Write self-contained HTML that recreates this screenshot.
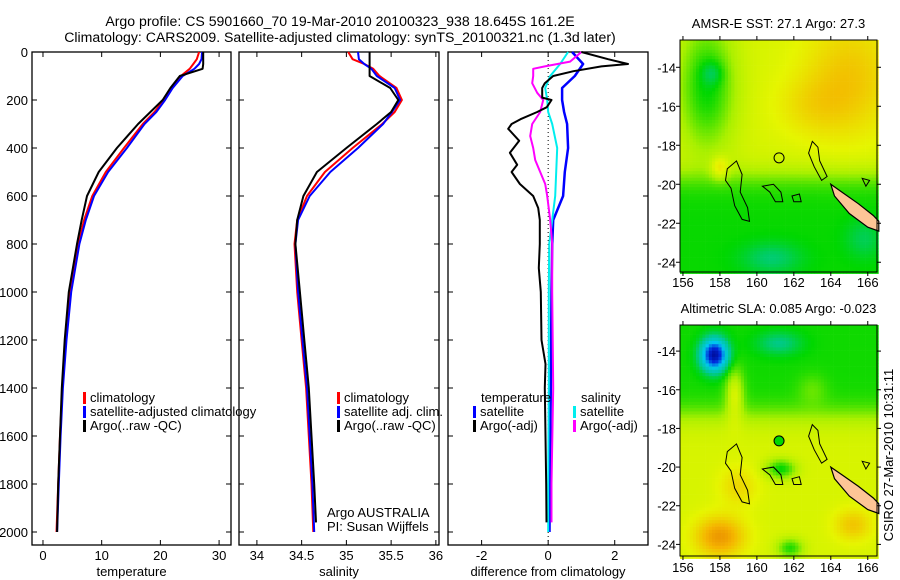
<!DOCTYPE html>
<html><head><meta charset="utf-8"><style>
body{margin:0;background:#fff}
svg{display:block;font-family:"Liberation Sans","DejaVu Sans",sans-serif}
text{fill:#000}
</style></head><body>
<svg id="fig" width="900" height="580" viewBox="0 0 900 580">
<text x="340" y="26" font-size="14.1" text-anchor="middle">Argo profile: CS 5901660_70 19-Mar-2010 20100323_938 18.645S 161.2E</text>
<text x="340" y="42" font-size="14.1" text-anchor="middle">Climatology: CARS2009. Satellite-adjusted climatology: synTS_20100321.nc (1.3d later)</text>
<g id="panels"></g>
<g id="maps"></g>
<text transform="translate(893,455) rotate(-90)" font-size="13" text-anchor="middle">CSIRO 27-Mar-2010 10:31:11</text>
</svg>
<script>
// ---- profile data ----
const depth = [0,30,50,70,100,150,200,250,300,400,500,600,700,800,1000,1200,1400,1600,1800,2000];
const tClim = [26.6,26.2,25.6,25.0,23.5,22.0,20.6,19.0,17.0,13.8,10.7,8.4,7.0,6.0,4.6,3.9,3.3,2.9,2.6,2.3];
const tSat  = [27.1,27.0,26.6,25.8,23.8,22.1,20.8,19.3,17.3,14.3,11.1,8.7,7.3,6.2,4.8,4.0,3.4,3.0,2.7,2.4];
const tArgo = [27.3,27.3,27.3,27.2,23.3,21.7,20.4,18.3,16.2,12.6,9.5,7.5,6.6,5.8,4.4,3.7,3.2,2.9,2.6,2.4];
const sClim = [35.02,35.07,35.2,35.3,35.37,35.56,35.62,35.54,35.40,35.07,34.76,34.56,34.45,34.42,34.45,34.5,34.55,34.58,34.61,34.63];
const sSat  = [35.13,35.14,35.2,35.28,35.34,35.54,35.60,35.51,35.41,35.13,34.82,34.59,34.46,34.43,34.46,34.51,34.56,34.59,34.62,34.64];
const sArgo = [35.26,35.26,35.26,35.26,35.26,35.49,35.58,35.50,35.34,35.0,34.67,34.52,34.45,34.43,34.48,34.53,34.58,34.61,34.64,34.66];
const dTArgoDepth = [0,30,50,60,80,100,130,150,190,200,230,250,280,300,320,370,420,470,500,550,600,650,700,800,900,1000,1200,1300,1400,1600,1800,1960];
const dTArgo = [1.0,1.8,2.4,1.6,0.76,0.15,-0.1,-0.18,-0.18,0.1,-0.04,-0.33,-0.83,-1.1,-1.2,-0.87,-1.15,-0.93,-1.1,-0.85,-0.45,-0.3,-0.25,-0.25,-0.28,-0.22,-0.2,-0.08,-0.1,-0.08,-0.06,-0.05];
const dSatDepth = [0,50,100,150,200,250,300,400,500,600,700,800,1000,1400,1800,2000];
const dTSat = [0.72,1.05,0.8,0.42,0.42,0.48,0.57,0.6,0.5,0.45,0.15,0.12,0.1,0.08,0.05,0.04];
const dSSat = [0.6,0.36,0.06,-0.09,-0.03,0,0.12,0.27,0.24,0.21,0.12,0.03,0.02,0.02,0.0,0.0];
const dSArgoDepth = [0,40,60,70,100,130,170,200,250,300,350,400,450,500,550,600,700,800,1000,1400,1800,1960];
const dSArgo = [1.0,0.66,-0.1,-0.45,-0.45,-0.48,-0.33,-0.15,-0.24,-0.48,-0.54,-0.45,-0.39,-0.24,-0.09,-0.03,0.06,0.12,0.12,0.15,0.1,0.1];
const yTicks = [0,200,400,600,800,1000,1200,1400,1600,1800,2000];

const NS='http://www.w3.org/2000/svg';
function mk(tag,attrs,parent){const e=document.createElementNS(NS,tag);for(const k in attrs)e.setAttribute(k,attrs[k]);parent.appendChild(e);return e;}
const P=document.getElementById('panels');
const yOf=d=>52+d*0.24;
const FS=13;

function panel(x0,x1,vmin,vmax,xticks,xlabel,name,showY){
  const g=mk('g',{},P);
  
  
  const xf=v=>x0+(v-vmin)/(vmax-vmin)*(x1-x0);
  const r=mk('rect',{x:x0,y:52,width:x1-x0,height:493,fill:'none',stroke:'#000','stroke-width':1.3},g);
  
  
  yTicks.forEach(d=>{
    const y=yOf(d);
    mk('line',{x1:x0,x2:x0+5,y1:y,y2:y,stroke:'#000'},g);
    mk('line',{x1:x1-5,x2:x1,y1:y,y2:y,stroke:'#000'},g);
    if(showY){const t=mk('text',{x:x0-4,y:y+5,'font-size':FS,'text-anchor':'end'},g);t.textContent=d;
      
      }
  });
  xticks.forEach(v=>{
    const x=xf(v);
    mk('line',{x1:x,x2:x,y1:52,y2:57,stroke:'#000'},g);
    mk('line',{x1:x,x2:x,y1:540,y2:545,stroke:'#000'},g);
    const t=mk('text',{x:x,y:560,'font-size':FS,'text-anchor':'middle'},g);t.textContent=v;
    
    
  });
  const lt=mk('text',{x:(x0+x1)/2,y:576,'font-size':FS,'text-anchor':'middle'},g);lt.textContent=xlabel;
  
  
  return {g,xf};
}
function series(p,vals,deps,color,w,name){
  const pts=vals.map((v,i)=>p.xf(v).toFixed(1)+','+yOf(deps[i]).toFixed(1)).join(' ');
  const l=mk('polyline',{points:pts,fill:'none',stroke:color,'stroke-width':w,'stroke-linejoin':'round'},p.g);
  
  
}
function legend(g,x,y,color,label,name){
  mk('rect',{x:x,y:y-10,width:3,height:12,fill:color},g);
  const t=mk('text',{x:x+7,y:y,'font-size':FS},g);t.textContent=label;
  
  
}
// panel 1
const p1=panel(32,231,-1.87,32.03,[0,10,20,30],'temperature','temperature-panel',true);
series(p1,tClim,depth,'#f00',2,'temp-climatology-line');
series(p1,tSat,depth,'#00f',2,'temp-satellite-line');
series(p1,tArgo,depth,'#000',2,'temp-argo-line');
legend(p1.g,83,402,'#f00','climatology','legend-climatology');
legend(p1.g,83,416,'#00f','satellite-adjusted climatology','legend-satellite');
legend(p1.g,83,430,'#000','Argo(..raw -QC)','legend-argo');
// panel 2
const p2=panel(239,439,33.8,36.035,[34,34.5,35,35.5,36],'salinity','salinity-panel',false);
series(p2,sClim,depth,'#f00',2,'sal-climatology-line');
series(p2,sSat,depth,'#00f',2,'sal-satellite-line');
series(p2,sArgo.slice(0,19).concat([34.66]),depth.slice(0,19).concat([1960]),'#000',2,'sal-argo-line');
legend(p2.g,337,402,'#f00','climatology','legend-sal-climatology');
legend(p2.g,337,416,'#00f','satellite adj. clim.','legend-sal-satellite');
legend(p2.g,337,430,'#000','Argo(..raw -QC)','legend-sal-argo');
const a1=mk('text',{x:327,y:517,'font-size':FS},p2.g);a1.textContent='Argo AUSTRALIA';


const a2=mk('text',{x:327,y:531,'font-size':FS},p2.g);a2.textContent='PI: Susan Wijffels';


// panel 3
const p3=panel(448,648,-3.01,3.0,[-2,0,2],'difference from climatology','difference-panel',false);
mk('line',{x1:p3.xf(0),x2:p3.xf(0),y1:52,y2:545,stroke:'#000','stroke-dasharray':'1,3'},p3.g);
series(p3,dTSat,dSatDepth,'#00f',2.5,'diff-temp-satellite-line');
series(p3,dSSat,dSatDepth,'#0ee',2,'diff-sal-satellite-line');
series(p3,dSArgo,dSArgoDepth,'#f0f',2,'diff-sal-argo-line');
series(p3,dTArgo,dTArgoDepth,'#000',2,'diff-temp-argo-line');
const ht=mk('text',{x:481,y:402,'font-size':FS},p3.g);ht.textContent='temperature';


const hs=mk('text',{x:581,y:402,'font-size':FS},p3.g);hs.textContent='salinity';


legend(p3.g,473,416,'#00f','satellite','legend-diff-temp-satellite');
legend(p3.g,473,430,'#000','Argo(-adj)','legend-diff-temp-argo');
legend(p3.g,573,416,'#0ee','satellite','legend-diff-sal-satellite');
legend(p3.g,573,430,'#f0f','Argo(-adj)','legend-diff-sal-argo');

// ---- maps ----
const M=document.getElementById('maps');
const stops=[[0,[0,0,120]],[0.15,[0,40,220]],[0.3,[0,200,240]],[0.45,[0,200,150]],[0.55,[0,215,0]],[0.66,[170,240,0]],[0.74,[230,245,0]],[0.85,[245,180,0]],[1,[220,100,0]]];
function cmap(v){v=Math.max(0,Math.min(1,v));for(let i=1;i<stops.length;i++){if(v<=stops[i][0]){const a=stops[i-1],b=stops[i],t=(v-a[0])/(b[0]-a[0]);return 'rgb('+a[1].map((c,k)=>Math.round(c+(b[1][k]-c)*t)).join(',')+')';}}return 'rgb(220,100,0)';}
function sq(a){return a*a;}
const G=(lon,lat,cx,cy,sx,sy)=>Math.exp(-sq((lon-cx)/sx)-sq((lat-cy)/sy));
function sst(lon,lat){
  let v=0.72;
  const south=1/(1+Math.exp((lat+19.6)*2.5));
  v+=(0.555-0.72)*south;
  v-=0.17*G(lon,lat,157.3,-15,1.5,3.2)*(1-south);
  v-=0.07*G(lon,lat,157.6,-14.3,0.6,0.6);
  v+=0.1*G(lon,lat,165,-14.5,2.5,3);
  v+=0.05*G(lon,lat,163,-16,2,1.5);
  v-=0.08*G(lon,lat,160.8,-23.8,1.6,0.8);
  v-=0.06*G(lon,lat,165.8,-22.8,1,1);
  v+=0.1*G(lon,lat,158,-19.2,0.5,0.6);
  return v;
}
function sla(lon,lat){
  let v=0.72;
  const north=1/(1+Math.exp(-(lat+17.3)*2.5));
  v+=(0.56-0.72)*north;
  v-=0.5*G(lon,lat,157.7,-14.2,0.7,0.8);
  v-=0.1*G(lon,lat,161.2,-13.6,1.2,0.6);
  v+=0.15*G(lon,lat,158.8,-16.2,0.5,1.3);
  v+=0.18*G(lon,lat,158,-23.6,1.3,1);
  v+=0.1*G(lon,lat,165.2,-23,1,0.8);
  v+=0.07*G(lon,lat,159,-21,1,1);
  v-=0.17*G(lon,lat,161.3,-20.1,0.8,0.5);
  v-=0.15*G(lon,lat,161.8,-24.2,0.7,0.5);
  v+=0.05*G(lon,lat,163,-16,0.8,0.8);
  return v;
}
const coasts=[
 [[158.4,-19.2],[158.9,-18.8],[159.2,-19.5],[159.1,-20.4],[159.5,-21.2],[159.6,-21.9],[159.2,-21.8],[158.8,-21.1],[158.6,-20.2],[158.3,-19.8]],
 [[160.3,-20.1],[160.9,-20.0],[161.3,-20.4],[161.4,-20.9],[161.0,-20.9],[160.7,-20.4]],
 [[161.9,-20.6],[162.3,-20.5],[162.4,-20.9],[162.0,-20.9]],
 [[163.0,-17.8],[163.3,-18.1],[163.4,-18.8],[163.8,-19.6],[163.5,-19.8],[163.1,-19.1],[162.8,-18.4]],
 [[165.7,-19.7],[166.1,-19.8],[165.9,-20.1]]
];
const ncal=[[164.0,-20.0],[164.6,-20.4],[165.5,-21.0],[166.3,-21.6],[166.6,-21.9],[166.6,-22.4],[166.0,-22.2],[165.0,-21.5],[164.2,-20.6]];
function drawMap(top,bot,latTop,latBot,fn,title,name,lonLabelY){
  const g=mk('g',{},M);
  
  
  const x0=680,x1=877,lon0=155.84,lon1=166.5;
  const X=lon=>x0+(lon-lon0)/(lon1-lon0)*(x1-x0);
  const Y=lat=>top+(latTop-lat)/(latTop-latBot)*(bot-top);
  const cs=3.2;
  for(let y=top;y<bot;y+=cs)for(let x=x0;x<x1;x+=cs){
    const lon=lon0+(x+cs/2-x0)/(x1-x0)*(lon1-lon0), lat=latTop-(y+cs/2-top)/(bot-top)*(latTop-latBot);
    mk('rect',{x:x.toFixed(1),y:y.toFixed(1),width:cs+0.3,height:cs+0.3,fill:cmap(fn(lon,lat))},g);
  }
  coasts.forEach(c=>{const pl=mk('polygon',{points:c.map(p=>X(p[0]).toFixed(1)+','+Y(p[1]).toFixed(1)).join(' '),fill:'none',stroke:'#000','stroke-width':1},g);
    
    });
  const nc=mk('polygon',{points:ncal.map(p=>X(p[0]).toFixed(1)+','+Y(p[1]).toFixed(1)).join(' '),fill:'#fdc596',stroke:'#000','stroke-width':1.2},g);
  
  
  const mc=mk('circle',{cx:X(161.2),cy:Y(-18.645),r:5,fill:name==='sla-map'?cmap(0.55):'none',stroke:'#000','stroke-width':1},g);
  
  
  mk('rect',{x:x0,y:top,width:x1-x0,height:bot-top,fill:'none',stroke:'#000','stroke-width':1},g);
  [156,158,160,162,164,166].forEach(l=>{const x=X(l);
    mk('line',{x1:x,x2:x,y1:top-4,y2:top,stroke:'#000'},g);
    mk('line',{x1:x,x2:x,y1:bot,y2:bot+4,stroke:'#000'},g);
    const t=mk('text',{x:x,y:lonLabelY,'font-size':FS,'text-anchor':'middle'},g);t.textContent=l;
    
    });
  [-14,-16,-18,-20,-22,-24].forEach(l=>{const y=Y(l);
    mk('line',{x1:x0-4,x2:x0,y1:y,y2:y,stroke:'#000'},g);
    mk('line',{x1:x1,x2:x1+4,y1:y,y2:y,stroke:'#000'},g);
    const t=mk('text',{x:x0-4,y:y+5,'font-size':FS,'text-anchor':'end'},g);t.textContent=l;
    
    });
  const tt=mk('text',{x:(x0+x1)/2,y:top-12,'font-size':FS,'text-anchor':'middle'},g);tt.textContent=title;
  
  
}
drawMap(40,272,-12.6,-24.5,sst,'AMSR-E SST: 27.1 Argo: 27.3','sst-map',287);
drawMap(325,556,-12.65,-24.6,sla,'Altimetric SLA: 0.085 Argo: -0.023','sla-map',572);
</script>
</body></html>
